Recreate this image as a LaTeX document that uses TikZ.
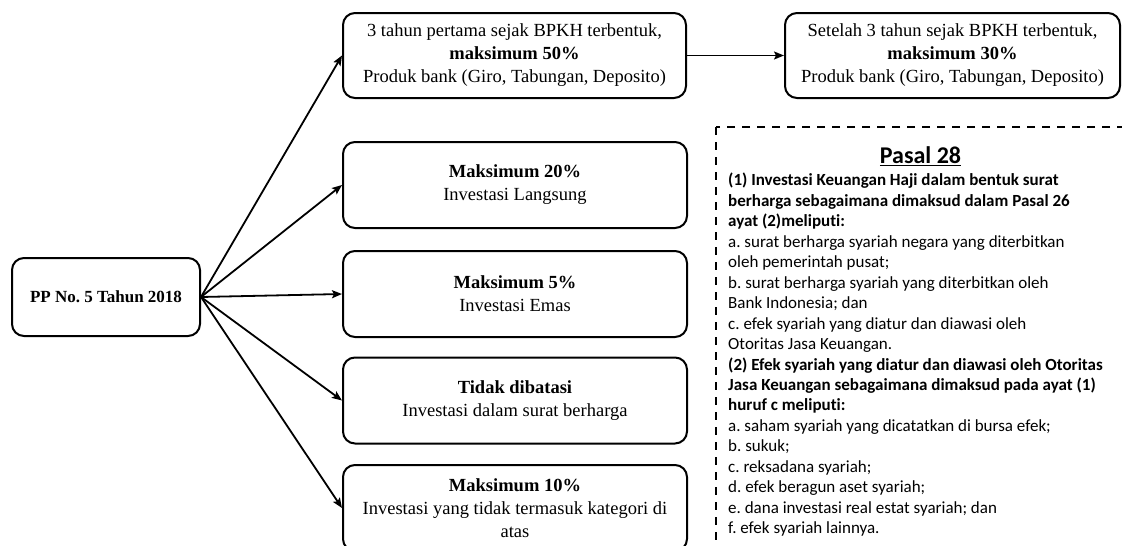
\documentclass[tikz,border=0pt]{standalone}
\usepackage{fontspec}
\setmainfont{Liberation Serif}
\newfontfamily\calfont[Ligatures=NoCommon]{Carlito}
\usetikzlibrary{arrows.meta}
\begin{document}
\frenchspacing
\begin{tikzpicture}[x=1pt,y=-1pt,
  box/.style={draw, line width=2pt, rounded corners=12pt, minimum width=344pt, minimum height=86pt,
    align=center, font=\fontsize{18.5}{23}\selectfont, inner sep=0pt},
  arr/.style={line width=1.8pt, -{Stealth[length=10pt,width=8pt,inset=2pt]}},
  dashbox/.style={line width=2pt, dash pattern=on 8pt off 7pt}]
\useasboundingbox (0,0) rectangle (1122,546);
\clip (0,0) rectangle (1122,546);
\fill[white] (0,0) rectangle (1122,546);

\node[box, minimum width=188pt, minimum height=78pt, font=\fontsize{17}{20}\selectfont] (pp) at (106,297) {\textbf{PP No. 5 Tahun 2018}};
\node[box, minimum width=343pt, minimum height=85pt] (b1) at (514.5,55.5) {3 tahun pertama sejak BPKH terbentuk,\\\textbf{maksimum 50\%}\\Produk bank (Giro, Tabungan, Deposito)};
\node[box, minimum width=335pt, minimum height=85pt] (b6) at (952.5,55.5) {Setelah 3 tahun sejak BPKH terbentuk,\\\textbf{maksimum 30\%}\\Produk bank (Giro, Tabungan, Deposito)};
\node[box] (b2) at (515,185) {\textbf{Maksimum 20\%}\\Investasi Langsung};
\node[box] (b3) at (515,294) {\textbf{Maksimum 5\%}\\Investasi Emas};
\node[box] (b4) at (515,400.5) {\textbf{Tidak dibatasi}\\Investasi dalam surat berharga};
\node[box] (b5) at (515,508) {\textbf{Maksimum 10\%}\\Investasi yang tidak termasuk kategori di\\atas};

\draw[arr] (pp.east) -- (b1.west);
\draw[arr] (pp.east) -- (b2.west);
\draw[arr] (pp.east) -- (b3.west);
\draw[arr] (pp.east) -- (b4.west);
\draw[arr] (pp.east) -- (b5.west);
\draw[arr] (b1.east) -- (b6.west);

\draw[dashbox] (716,127) rectangle (1140,575);

\node[font=\calfont\bfseries\fontsize{24}{28}\selectfont, inner sep=0pt] (title) at (920.5,156) {\underline{Pasal 28}};
\node[anchor=north west, inner sep=0pt, align=left, font=\calfont\fontsize{17}{20.47}\selectfont] (body) at (728,173) {%
\textbf{(1) Investasi Keuangan Haji dalam bentuk surat}\\
\textbf{berharga sebagaimana dimaksud dalam Pasal 26}\\
\textbf{ayat (2)meliputi:}\\
a. surat berharga syariah negara yang diterbitkan\\
oleh pemerintah pusat;\\
b. surat berharga syariah yang diterbitkan oleh\\
Bank Indonesia; dan\\
c. efek syariah yang diatur dan diawasi oleh\\
Otoritas Jasa Keuangan.\\
\textbf{(2) Efek syariah yang diatur dan diawasi oleh Otoritas}\\
\textbf{Jasa Keuangan sebagaimana dimaksud pada ayat (1)}\\
\textbf{huruf c meliputi:}\\
a. saham syariah yang dicatatkan di bursa efek;\\
b. sukuk;\\
c. reksadana syariah;\\
d. efek beragun aset syariah;\\
e. dana investasi real estat syariah; dan\\
f. efek syariah lainnya.};
\end{tikzpicture}
\end{document}
